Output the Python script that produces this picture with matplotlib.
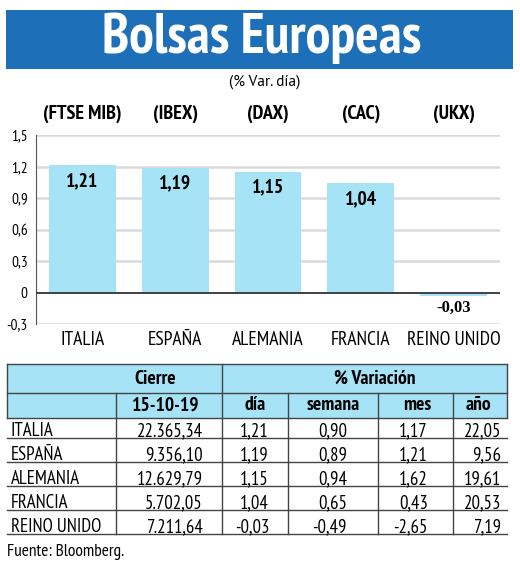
import matplotlib
matplotlib.use("Agg")
import matplotlib.pyplot as plt
from matplotlib.patches import Rectangle

countries = ['ITALIA', 'ESPAÑA', 'ALEMANIA', 'FRANCIA', 'REINO UNIDO']
indices = ['(FTSE MIB)', '(IBEX)', '(DAX)', '(CAC)', '(UKX)']
dia = [1.21, 1.19, 1.15, 1.04, -0.03]
cierre = ['22.365,34', '9.356,10', '12.629,79', '5.702,05', '7.211,64']
semana = [0.90, 0.89, 0.94, 0.65, -0.49]
mes = [1.17, 1.21, 1.62, 0.43, -2.65]
anio = [22.05, 9.56, 19.61, 20.53, 7.19]
yticks = [-0.3, 0, 0.3, 0.6, 0.9, 1.2, 1.5]

W, H = 520, 565
NARROW = ['PT Sans Narrow', 'DejaVu Sans']
SANS = ['PT Sans', 'DejaVu Sans']
BAR = '#a6e3f7'
BLUE = '#1d70b8'

def fmt(v):
    return f"{v:.2f}".replace('.', ',')

fig = plt.figure(figsize=(W/100, H/100), dpi=100)
bg = fig.add_axes([0, 0, 1, 1])
bg.set_xlim(0, W); bg.set_ylim(H, 0); bg.axis('off')

# title
bg.add_patch(Rectangle((6, 10), 507, 59, color=BLUE, lw=0))
bg.text(262, 38, 'Bolsas Europeas', color='white', fontsize=40, fontweight='bold',
        family=NARROW, ha='center', va='center')
bg.text(265, 82, '(% Var. día)', fontsize=11, family=SANS, ha='center', va='center')

# bar chart
x0, x1, ytop, ybot = 36, 500, 135, 324
ax = fig.add_axes([x0/W, 1 - ybot/H, (x1-x0)/W, (ybot-ytop)/H])
xs = list(range(len(countries)))
ax.bar(xs, dia, width=0.72, color=BAR, zorder=2)
ax.set_xlim(-0.5, 4.5)
ax.set_ylim(-0.3, 1.5)
ax.set_yticks(yticks)
ax.set_yticklabels([('0' if t == 0 else f"{t:.1f}".replace('.', ',')) for t in yticks],
                   family=NARROW, fontsize=11)
for t in yticks:
    if t != 0:
        ax.axhline(t, color='#dadada', lw=1.8, zorder=1)
ax.axhline(0, color='#333333', lw=1.3, zorder=3)
for s in ['top', 'right', 'bottom']:
    ax.spines[s].set_visible(False)
ax.spines['left'].set_color('#555555')
ax.tick_params(axis='y', length=0, pad=6)
ax.set_xticks(xs)
ax.set_xticklabels(countries, family=NARROW, fontsize=14)
ax.tick_params(axis='x', length=0, pad=5)
for x, v in zip(xs, dia):
    if v >= 0:
        ax.annotate(fmt(v), (x, v), xytext=(0, -16), textcoords='offset pixels',
                    ha='center', va='center', fontsize=14, fontweight='bold', family=NARROW)
    else:
        ax.annotate(fmt(v), (x, v), xytext=(0, -12), textcoords='offset pixels',
                    ha='center', va='center', fontsize=12, fontweight='bold',
                    family=['Liberation Serif', 'DejaVu Serif'])
for x, lab in zip(xs, indices):
    ax.annotate(lab, (x, 1.5), xytext=(0, 21), textcoords='offset pixels',
                ha='center', va='center', fontsize=14.5, fontweight='bold', family=NARROW,
                annotation_clip=False)

# table
cols = [7, 116, 222, 288, 378, 453, 507]
r_h1, r_h2, r_d = 364, 393, 418
row_h = 24
line = '#444444'
bg.add_patch(Rectangle((cols[0], r_h1), cols[-1]-cols[0], r_d-r_h1, color=BAR, lw=0))
for yy in [r_h1, r_h2, r_d]:
    bg.plot([cols[0], cols[-1]], [yy, yy], color=line, lw=1)
bg.plot([cols[0], cols[0]], [r_h1, r_d], color=line, lw=1)
bg.plot([cols[-1], cols[-1]], [r_h1, r_d], color=line, lw=1)
bg.plot([cols[2], cols[2]], [r_h1, r_d + 5*row_h - 4], color=line, lw=1)
for c in [cols[1], cols[3], cols[4], cols[5]]:
    bg.plot([c, c], [r_h2, r_d + 5*row_h - 4], color=line, lw=1)

hdr = dict(fontsize=14, fontweight='bold', family=NARROW, va='center', ha='center')
bg.text(155, (r_h1+r_h2)/2, 'Cierre', **hdr)
bg.text(375, (r_h1+r_h2)/2, '% Variación', **hdr)
hdr2_x = [166, 255, 333, 417, 478]
for xc, lab in zip(hdr2_x, ['15-10-19', 'día', 'semana', 'mes', 'año']):
    bg.text(xc, (r_h2+r_d)/2, lab, **hdr)

right_x = [203, 269, 347, 428, 501]
cell = dict(fontsize=13.5, family=NARROW, va='center')
for i in range(len(countries)):
    ul = r_d + (i+1)*row_h - 4
    yc = ul - 7
    bg.plot([cols[0], cols[-1]], [ul, ul], color=line, lw=1)
    bg.text(cols[0] + 4, yc, countries[i], ha='left', **cell)
    vals = [cierre[i], fmt(dia[i]), fmt(semana[i]), fmt(mes[i]), fmt(anio[i])]
    for j, v in enumerate(vals):
        bg.text(right_x[j], yc, v, ha='right', **cell)

bg.text(7, 552, 'Fuente: Bloomberg.', fontsize=12.5, family=NARROW, ha='left', va='center')

fig.savefig('out.png', dpi=100)
